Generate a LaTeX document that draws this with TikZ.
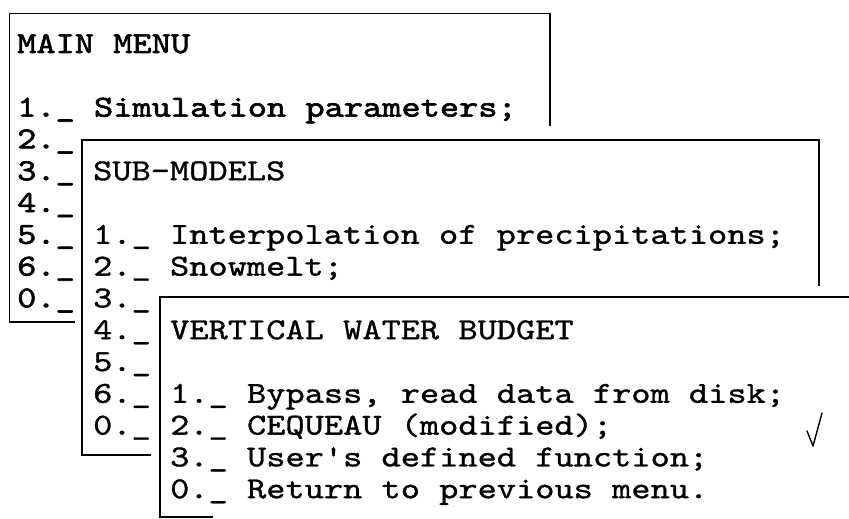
\documentclass[tikz,border=0pt]{standalone}
\usepackage{fontspec}
\setmonofont{lmmono10-regular.otf}[FakeStretch=1.2,FakeBold=1]
\newfontfamily\boldmenufont{lmmono10-regular.otf}[FakeStretch=1.2,FakeBold=2]
\begin{document}
\begin{tikzpicture}[x=1pt,y=-1pt,
  menutxt/.style={anchor=base west,inner sep=0pt,font=\ttfamily\fontsize{30.5}{32}\selectfont},
  maintxt/.style={menutxt,font=\boldmenufont\fontsize{30.5}{32}\selectfont},
  frame/.style={line width=1.6pt,line cap=rect},
  tick/.style={line width=1.4pt,line cap=round,line join=round}]
\useasboundingbox[fill=white] (0,0) rectangle (849,519);
% main menu
\foreach \n/\k/\t in {m0/0/{MAIN MENU}, m1/2/{1.\_ Simulation parameters;}, m2/3/{2.\_}, m3/4/{3.\_},
  m4/5/{4.\_}, m5/6/{5.\_}, m6/7/{6.\_}, m7/8/{0.\_}}
  \node[maintxt] (\n) at (17,{53+31.8*\k}) {\t};
% sub-models
\foreach \n/\k/\t in {s0/4/{SUB-MODELS}, s1/6/{1.\_ Interpolation of precipitations;}, s2/7/{2.\_ Snowmelt;},
  s3/8/{3.\_}, s4/9/{4.\_}, s5/10/{5.\_}, s6/11/{6.\_}, s7/12/{0.\_}}
  \node[menutxt] (\n) at (93,{53+31.8*\k}) {\t};
% vertical water budget
\foreach \n/\k/\t in {v0/9/{VERTICAL WATER BUDGET}, v1/11/{1.\_ Bypass, read data from disk;},
  v2/12/{2.\_ CEQUEAU (modified);}, v3/13/{3.\_ User's defined function;}, v4/14/{0.\_ Return to previous menu.}}
  \node[menutxt] (\n) at (170,{53+31.8*\k}) {\t};
% frames
\draw[frame] (550,125) -- (550,13.5) -- (9.5,13.5) -- (9.5,322) -- (74,322);
\draw[frame] (819,285) -- (819,140) -- (82,140) -- (82,455) -- (150,455);
\draw[frame] (849,297) -- (160,297) -- (160,517) -- (212,517);
% check mark
\draw[tick] (807,431) -- (813,446) -- (822,413);
\end{tikzpicture}
\end{document}
